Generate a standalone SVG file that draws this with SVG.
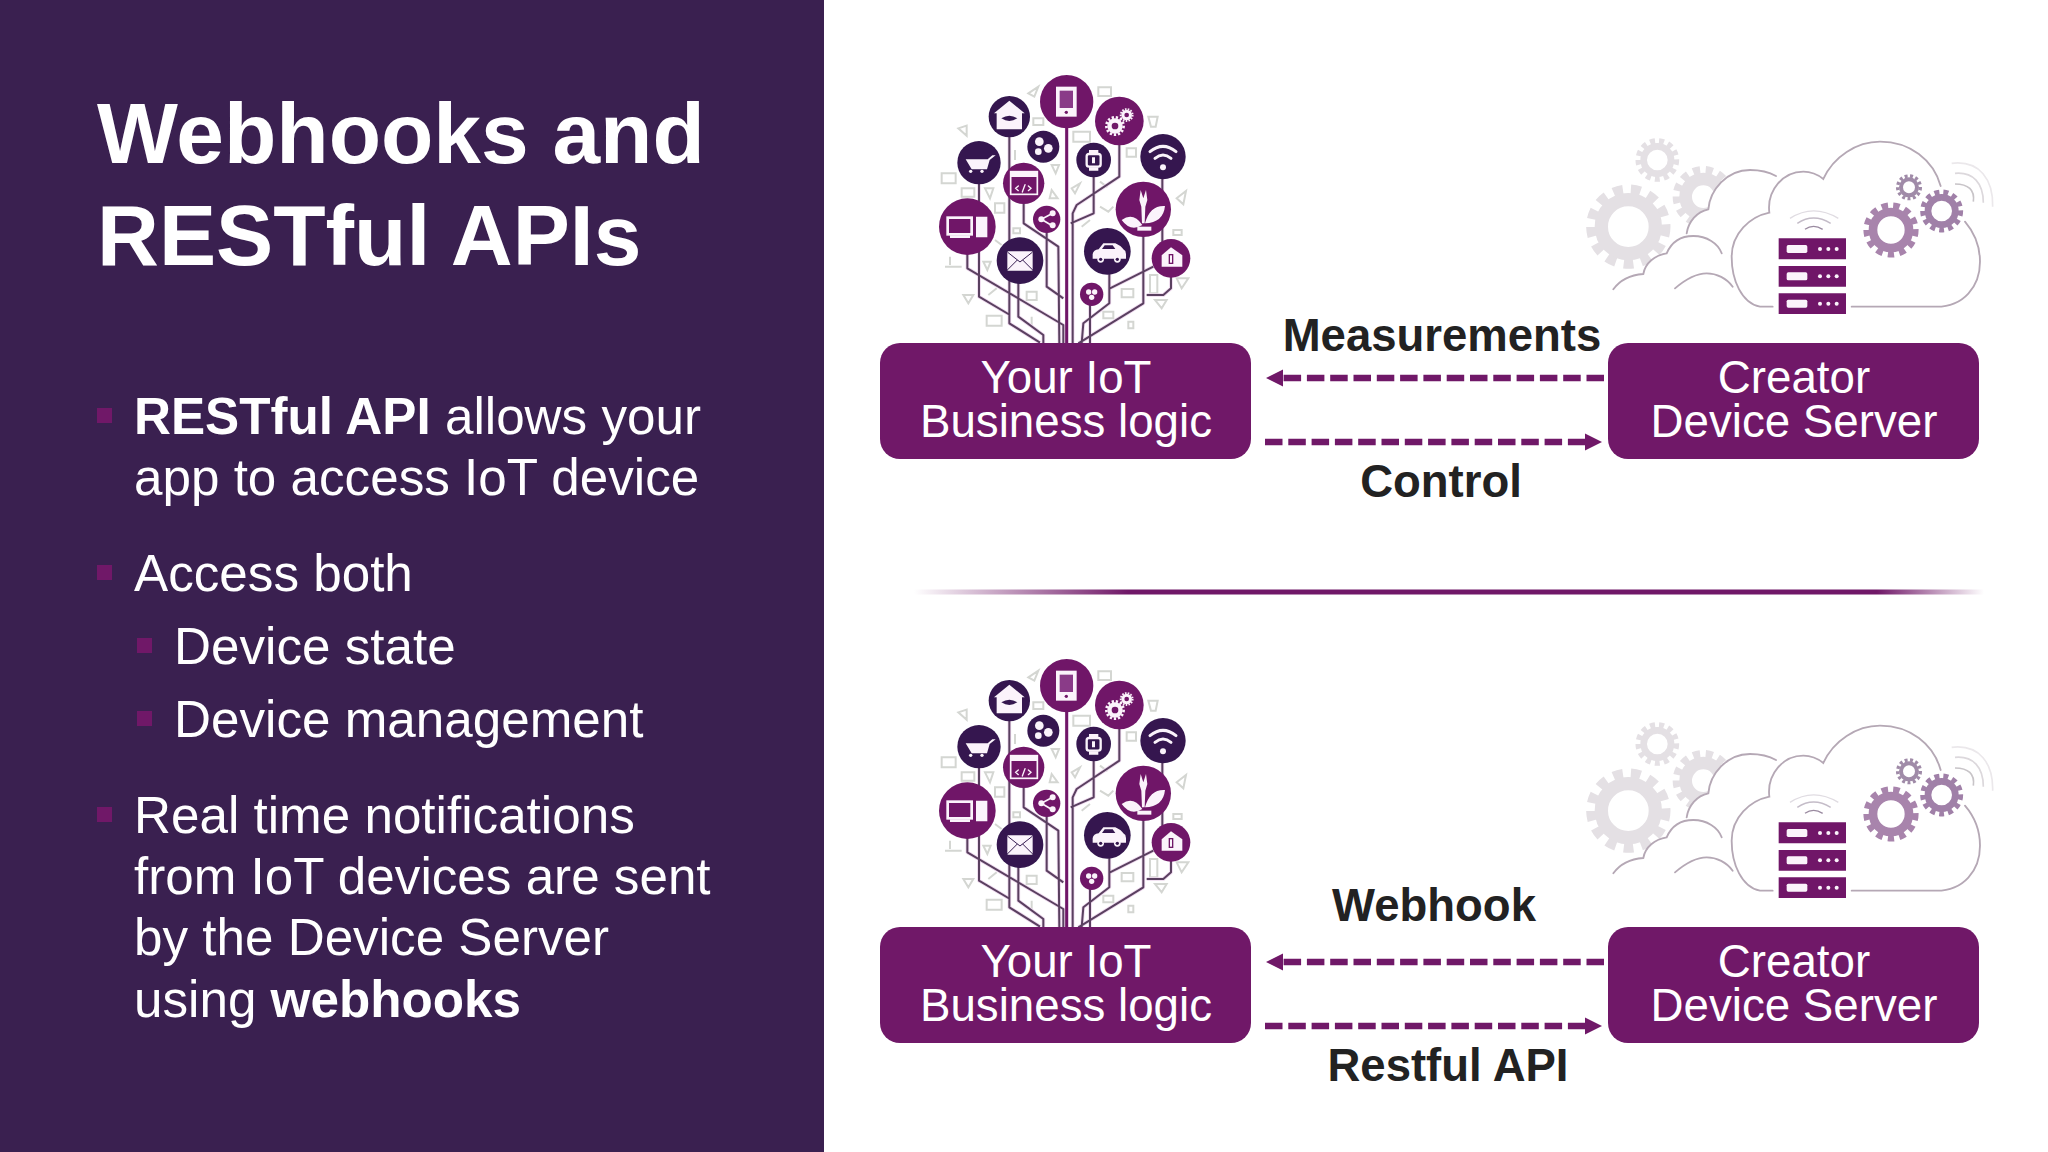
<svg xmlns="http://www.w3.org/2000/svg" width="2048" height="1152" viewBox="0 0 2048 1152">
<style>
text{font-family:"Liberation Sans",Arial,sans-serif}
.title{font-size:85.7px;font-weight:700;fill:#fff}
.body{font-size:51.2px;fill:#fff}
.body tspan{font-weight:700}
.bul{fill:#701868}
.box{fill:#701868}
.boxt{font-size:45.7px;fill:#fff;text-anchor:middle}
.lab{font-size:45.5px;font-weight:700;fill:#222;text-anchor:middle}
.dash{stroke:#701868;stroke-width:6.5;stroke-dasharray:17.5 5.8;fill:none}
.head{fill:#701868}
.p{fill:#701868}.d{fill:#34194f}
.w{fill:#fbf3fb}.ws{fill:none;stroke:#fbf3fb;stroke-linecap:round}
.ln{fill:none;stroke:#5a4060;stroke-width:6;stroke-linejoin:round}
.lp{fill:none;stroke:#701868;stroke-width:9}
.halo{fill:none;stroke:#eed9ee;stroke-width:11;stroke-linejoin:round}
.f{fill:none;stroke:#d4d6d2;stroke-width:6}
.cl{fill:#fff;stroke:none}
.clb{fill:none;stroke:#b5a8b5;stroke-width:5.500;stroke-linecap:round}
</style>
<defs>
<filter id="soft" x="-5%" y="-5%" width="110%" height="110%"><feGaussianBlur stdDeviation="1.8"/></filter>
<linearGradient id="sep" x1="0" x2="1" y1="0" y2="0">
<stop offset="0" stop-color="#701868" stop-opacity="0"/><stop offset=".2" stop-color="#701868"/><stop offset=".9" stop-color="#701868"/><stop offset="1" stop-color="#701868" stop-opacity="0"/>
</linearGradient>
<g id="gearT"><circle r="1" fill="none" stroke-width=".3" stroke-dasharray=".29 .24" pathLength="6.28"/></g>
<g id="tree" filter="url(#soft)">
<g class="f">
<path d="M385 130l30-20-12 30zM595 112h38v26h-38zM745 200h28l-6 30h-14zM175 235l25-8v30zM520 245h50v30h-50zM345 300v30M125 370h42v30h-42zM185 415h38v25h-38zM255 415h25l-10 30zM285 460h28v28h-28zM455 345h22l-10 25zM455 420l18 25h-24zM515 415l25-15-15 30zM600 395l20 15 10-15M680 295h28v25h-28zM600 470l25 15 15-15M545 530l25-20M830 445l28-22-8 40zM340 535h20v15h-20zM820 540h25v15h-25zM285 570l20 15M135 650h50M150 620v25M250 635h22l-10 25zM190 735h30l-15 25zM265 735l25-20M260 797h45v30h-45zM380 725h30v25h-30zM665 717h35v25h-35zM750 675h22v55h-22zM830 685h35l-20 30zM765 750h35l-15 25zM395 800v25M610 785h30v20h-30zM685 815h15v20h-15zM400 205h30v20h-30z"/>
</g>
<g>
<path class="halo" d="M500 155V880M518 880V490L530 465 658 380V213M581 330V490L512 520M328 200V820L420 878M237 338V740L330 795M202 530V655L490 825V880M355 632V800L430 855V880M371 400V520L475 590 478 880M440 508V710L490 745M628 604V760L550 820 545 880M570 733V880M730 478V760L535 880M813 625V715L790 735H740M760 650L630 715M787 320V580"/>
<path class="lp" d="M500 155V880"/>
<path class="ln" d="M518 880V490L530 465 658 380V213M581 330V490L512 520M328 200V820L420 878M237 338V740L330 795M202 530V655L490 825V880M355 632V800L430 855V880M371 400V520L475 590 478 880M440 508V710L490 745M628 604V760L550 820 545 880M570 733V880M730 478V760L535 880M813 625V715L790 735H740M760 650L630 715M787 320V580"/>
</g>
<circle class="p" cx="500" cy="155" r="80"/>
<path class="w" d="M468 110h62v90h-62z"/><rect x="479" y="122" width="40" height="52" fill="#8a3a88"/><circle class="p" cx="499" cy="187" r="5"/>
<circle class="p" cx="658" cy="213" r="73"/>
<use href="#gearT" transform="translate(645,228) scale(26)" stroke="#fbf3fb"/><circle cx="645" cy="228" r="23" class="w"/><circle cx="645" cy="228" r="10" class="p"/>
<use href="#gearT" transform="translate(680,195) scale(18)" stroke="#fbf3fb"/><circle cx="680" cy="195" r="16" class="w"/><circle cx="680" cy="195" r="7" class="p"/>
<circle class="d" cx="328" cy="200" r="62"/>
<path class="w" d="M328 152l46 38h-8v48h-76v-48h-8z"/><path d="M304 205q24-16 48 0q-24 16-48 0z" fill="#34194f"/>
<circle class="d" cx="237" cy="338" r="65"/>
<path class="w" d="M197 328l66 0 14-12 10 0-18 14-8 28h-46z"/><circle class="w" cx="212" cy="364" r="5"/><circle class="w" cx="246" cy="364" r="5"/>
<circle class="d" cx="430" cy="290" r="48"/>
<circle class="w" cx="418" cy="275" r="13"/><circle class="w" cx="445" cy="295" r="13"/><circle class="w" cx="415" cy="305" r="10"/>
<circle class="d" cx="581" cy="330" r="52"/>
<rect x="560" y="312" width="42" height="38" rx="7" fill="none" stroke="#fbf3fb" stroke-width="7"/><path class="w" d="M567 300h28v10h-28zM567 352h28v10h-28zM576 322h9v18h-9z"/>
<circle class="d" cx="789" cy="320" r="68"/>
<path class="ws" stroke-width="9" d="M750 305q39-32 78 0M765 325q24-20 48 0"/><circle class="w" cx="789" cy="352" r="9"/>
<circle class="p" cx="371" cy="400" r="62"/>
<rect x="332" y="365" width="80" height="68" fill="none" stroke="#fbf3fb" stroke-width="5"/><path class="w" d="M332 365h80v16h-80z"/><path class="ws" stroke-width="4" d="M355 408l-8 7 8 7M385 408l8 7-8 7M375 404l-8 22"/>
<circle class="p" cx="440" cy="508" r="41"/>
<path class="ws" stroke-width="5" d="M458 490l-34 18 34 20"/><circle class="w" cx="424" cy="508" r="9"/><circle class="w" cx="458" cy="490" r="9"/><circle class="w" cx="458" cy="526" r="9"/>
<circle class="p" cx="730" cy="478" r="83"/>
<path class="w" d="M722 420l8 25 8-25 4 30-6 20-2 50h-8l-2-50-6-20zM665 510q35-25 62 15q-35 22-62-15zM735 520q15-55 60-52q-5 50-60 52z"/><path class="w" d="M712 530h42v12h-42z"/>
<circle class="p" cx="202" cy="530" r="85"/>
<rect x="143" y="503" width="72" height="50" fill="none" stroke="#fbf3fb" stroke-width="8"/><path class="w" d="M228 500h34v62h-34zM150 556h60v8h-60z"/>
<circle class="d" cx="360" cy="632" r="70"/>
<rect class="w" x="322" y="604" width="76" height="58" rx="3"/><path d="M322 606l38 30 38-30M322 660l30-30M398 660l-30-30" fill="none" stroke="#34194f" stroke-width="3"/>
<circle class="d" cx="622" cy="604" r="70"/>
<path class="w" d="M578 612q2-12 18-14l14-18h36q18 8 24 18q8 4 8 14v14h-100z"/><path d="M606 597l8-11h24l8 11z" fill="#34194f"/><circle class="w" cx="602" cy="628" r="10"/><circle class="w" cx="652" cy="628" r="10"/><circle class="d" cx="602" cy="628" r="5"/><circle class="d" cx="652" cy="628" r="5"/>
<circle class="p" cx="575" cy="733" r="35"/>
<circle class="w" cx="566" cy="726" r="8"/><circle class="w" cx="584" cy="726" r="8"/><circle class="w" cx="575" cy="742" r="8"/>
<circle class="p" cx="813" cy="625" r="58"/>
<path class="w" d="M813 592l34 24v34h-62v-34z"/><rect class="p" x="806" y="612" width="14" height="30"/><path class="w" d="M810 616h6v22h-6z"/>
</g>
<g id="cloud" filter="url(#soft)">
<use href="#gearT" transform="translate(205,350) scale(110)" stroke="#e4e0e4"/><circle cx="205" cy="350" r="81" fill="none" stroke="#e4e0e4" stroke-width="40"/>
<use href="#gearT" transform="translate(292,150) scale(57)" stroke="#e4e0e4"/><circle cx="292" cy="150" r="41" fill="none" stroke="#e4e0e4" stroke-width="20"/>
<use href="#gearT" transform="translate(430,260) scale(80)" stroke="#e4e0e4"/><circle cx="430" cy="260" r="53" fill="none" stroke="#e4e0e4" stroke-width="38"/>
<path class="cl" d="M380 400C385 335 410 305 445 298C450 240 500 180 570 180C600 180 625 185 648 198L700 420Z"/>
<path class="clb" d="M380 370C385 335 410 305 445 298C450 240 500 180 570 180C600 180 625 185 648 198"/>
<path class="cl" d="M160 540C180 510 210 495 250 492C255 460 285 435 320 430C335 395 365 378 400 378C440 378 475 400 485 430L520 540Z"/>
<path class="clb" d="M160 538C180 510 210 495 250 492C255 460 285 435 320 430C335 395 365 378 400 378C440 378 475 400 485 430M345 535C380 505 410 490 440 490C470 490 500 505 518 530"/>
<path class="cl" d="M600 590C545 580 515 510 515 440C515 370 570 320 628 308C620 240 670 185 730 185C755 185 775 195 790 207C820 140 890 95 960 95C1050 95 1120 150 1142 228L1215 335C1245 370 1260 410 1260 455C1260 530 1210 590 1130 590Z"/>
<path class="clb" d="M638 590H600C545 580 515 510 515 440C515 370 570 320 628 308C620 240 670 185 730 185C755 185 775 195 790 207C820 140 890 95 960 95C1050 95 1120 150 1142 228M1215 335C1245 370 1260 410 1260 455C1260 530 1210 590 1130 590H875"/>
<use href="#gearT" transform="translate(993,360) scale(72)" stroke="#a884ac"/><circle cx="993" cy="360" r="54" fill="#fff" stroke="#a884ac" stroke-width="26"/>
<use href="#gearT" transform="translate(1145,303) scale(56)" stroke="#a080a8"/><circle cx="1145" cy="303" r="41" fill="#fff" stroke="#a080a8" stroke-width="20"/>
<use href="#gearT" transform="translate(1047,232) scale(34)" stroke="#a08ba8"/><circle cx="1047" cy="232" r="24" fill="#fff" stroke="#a08ba8" stroke-width="12"/>
<path class="p" d="M656 385h202v63h-202zM656 468h202v62h-202zM656 550h202v62h-202z"/>
<g class="w"><rect x="680" y="405" width="62" height="24" rx="5"/><rect x="680" y="487" width="62" height="24" rx="5"/><rect x="680" y="569" width="62" height="24" rx="5"/>
<circle cx="780" cy="417" r="6"/><circle cx="805" cy="417" r="6"/><circle cx="830" cy="417" r="6"/><circle cx="780" cy="499" r="6"/><circle cx="805" cy="499" r="6"/><circle cx="830" cy="499" r="6"/><circle cx="780" cy="581" r="6"/><circle cx="805" cy="581" r="6"/><circle cx="830" cy="581" r="6"/></g>
<path fill="none" stroke="#9a8aa0" stroke-width="4" d="M735 358Q760 340 788 358"/>
<path fill="none" stroke="#c4bcc8" stroke-width="4" d="M712 340Q760 308 812 340"/>
<path fill="none" stroke="#e0dce2" stroke-width="4" d="M690 325Q760 280 835 325"/>
<path fill="none" stroke="#c8c4c8" stroke-width="5" d="M1185 222C1225 222 1245 240 1240 275"/>
<path fill="none" stroke="#dcd8dc" stroke-width="5" d="M1185 190C1240 185 1270 220 1270 278"/>
<path fill="none" stroke="#ebe8eb" stroke-width="5" d="M1175 160C1260 150 1300 210 1298 290"/>
</g>
</defs>
<rect width="2048" height="1152" fill="#fff"/>
<rect id="panel" width="824" height="1152" fill="#3a2050"/>
<g id="left-text">
<text class="title" x="97" y="163">Webhooks and</text>
<text class="title" x="97" y="265">RESTful APIs</text>
<rect class="bul" x="97" y="408" width="15" height="15"/>
<text class="body" x="134" y="434"><tspan>RESTful API</tspan> allows your</text>
<text class="body" x="134" y="495">app to access IoT device</text>
<rect class="bul" x="97" y="565" width="15" height="15"/>
<text class="body" x="134" y="591">Access both</text>
<rect class="bul" x="137" y="638" width="15" height="15"/>
<text class="body" x="174" y="664">Device state</text>
<rect class="bul" x="137" y="711" width="15" height="15"/>
<text class="body" x="174" y="737">Device management</text>
<rect class="bul" x="97" y="807" width="15" height="15"/>
<text class="body" x="134" y="833">Real time notifications</text>
<text class="body" x="134" y="894">from IoT devices are sent</text>
<text class="body" x="134" y="955">by the Device Server</text>
<text class="body" x="134" y="1017">using <tspan>webhooks</tspan></text>
</g>
<rect id="separator" x="914" y="589.500" width="1070" height="5" fill="url(#sep)"/>
<g id="tree-top"><use href="#tree" transform="translate(900,50) scale(.33333)"/></g>
<g id="cloud-top"><use href="#cloud" transform="translate(1560,110) scale(.33333)"/></g>
<g id="tree-bottom"><use href="#tree" transform="translate(900,634) scale(.33333)"/></g>
<g id="cloud-bottom"><use href="#cloud" transform="translate(1560,694) scale(.33333)"/></g>
<g id="node-iot-top"><rect class="box" x="880" y="343" width="371" height="116" rx="20"/><text class="boxt" x="1066" y="393">Your IoT</text><text class="boxt" x="1066" y="437">Business logic</text></g>
<g id="node-creator-top"><rect class="box" x="1608" y="343" width="371" height="116" rx="20"/><text class="boxt" x="1794" y="393">Creator</text><text class="boxt" x="1794" y="437">Device Server</text></g>
<g id="node-iot-bottom"><rect class="box" x="880" y="927" width="371" height="116" rx="20"/><text class="boxt" x="1066" y="977">Your IoT</text><text class="boxt" x="1066" y="1021">Business logic</text></g>
<g id="node-creator-bottom"><rect class="box" x="1608" y="927" width="371" height="116" rx="20"/><text class="boxt" x="1794" y="977">Creator</text><text class="boxt" x="1794" y="1021">Device Server</text></g>
<g id="connectors">
<path class="dash" d="M1604 378H1282"/><path class="head" d="M1266 378l17-8.500v17z"/>
<path class="dash" d="M1265 442H1585"/><path class="head" d="M1602 442l-17-8.500v17z"/>
<path class="dash" d="M1604 962H1282"/><path class="head" d="M1266 962l17-8.500v17z"/>
<path class="dash" d="M1265 1026H1585"/><path class="head" d="M1602 1026l-17-8.500v17z"/>
</g>
<g id="labels">
<text class="lab" x="1442" y="351">Measurements</text>
<text class="lab" x="1441" y="497">Control</text>
<text class="lab" x="1434" y="921">Webhook</text>
<text class="lab" x="1448" y="1081">Restful API</text>
</g>
</svg>
